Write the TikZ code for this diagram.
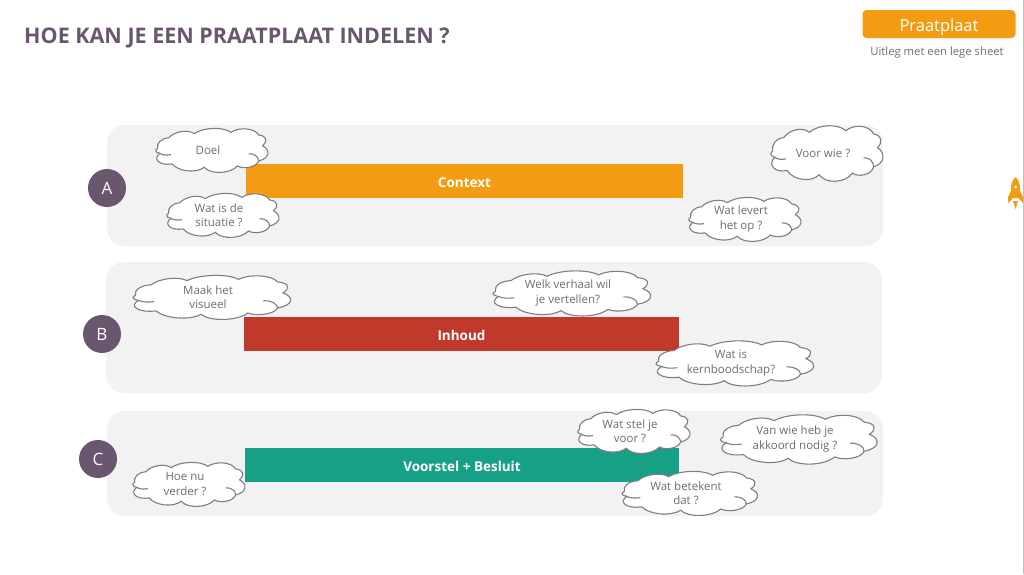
\documentclass[tikz,border=0pt]{standalone}
\usepackage{fontspec}
\setmainfont{Open Sans}
\definecolor{plum}{HTML}{6B5670}
\definecolor{panelgrey}{HTML}{F2F2F2}
\definecolor{barorange}{HTML}{F39C12}
\definecolor{barred}{HTML}{C0392B}
\definecolor{bargreen}{HTML}{16A085}
\definecolor{cloudline}{HTML}{85798A}
\definecolor{cloudtext}{HTML}{6E6E6E}
\tikzset{
  panelbox/.style={fill=panelgrey,rounded corners=18pt,inner sep=0pt},
  barbox/.style={inner sep=0pt,text=white,text height=12pt,text depth=0pt,font=\fontsize{13.5}{16}\selectfont\bfseries},
  letterdot/.style={circle,fill=plum,text=white,minimum size=38pt,inner sep=0pt,font=\fontsize{17}{20}\selectfont},
  cloudline/.style={draw=cloudline,line width=1.1pt},
  cloudtag/.style={text=cloudtext,align=center,inner sep=0pt,font=\fontsize{11.5}{14.5}\selectfont},
}
% name, centre x, centre y, width, height, text
\newcommand{\saycloud}[6]{
  \begin{scope}[shift={(#2,#3)},xscale=#4,yscale=#5]
  \filldraw[cloudline,fill=white] (-.49,-.04) .. controls (-.50,-.16) and (-.46,-.28) .. (-.39,-.29)
    .. controls (-.34,-.44) and (-.22,-.50) .. (-.16,-.39)
    .. controls (-.08,-.54) and (.10,-.56) .. (.17,-.42)
    .. controls (.23,-.54) and (.38,-.54) .. (.42,-.36)
    .. controls (.50,-.33) and (.50,-.20) .. (.455,-.10)
    .. controls (.53,.00) and (.52,.20) .. (.42,.26)
    .. controls (.40,.42) and (.28,.46) .. (.23,.38)
    .. controls (.16,.58) and (-.02,.58) .. (-.07,.41)
    .. controls (-.14,.56) and (-.30,.52) .. (-.36,.33)
    .. controls (-.47,.38) and (-.54,.22) .. (-.47,.08)
    .. controls (-.52,.05) and (-.51,-.01) .. (-.49,-.04) -- cycle;
  \draw[cloudline] (.33,.09) .. controls (.38,.08) and (.42,.16) .. (.42,.26);
  \draw[cloudline] (-.47,.08) .. controls (-.45,.12) and (-.41,.13) .. (-.37,.11);
  \end{scope}
  \node (#1) at (#2-4,#3) [cloudtag] {#6};
}
\begin{document}
\begin{tikzpicture}[x=1pt,y=-1pt]
\useasboundingbox (0,0) rectangle (1024,574);
\fill[white] (0,0) rectangle (1024,574);
\fill[black!25] (1022.5,0) rectangle (1024,574);
% header
\node (title) at (24,43) [anchor=base west,inner sep=0pt,text=plum,font=\fontsize{21.5}{24}\selectfont\bfseries] {HOE KAN JE EEN PRAATPLAAT INDELEN ?};
\node (badge) at (939,24) [fill=barorange,rounded corners=4pt,minimum width=153pt,minimum height=28pt,inner sep=0pt,text=white,text height=14pt,text depth=0pt,font=\fontsize{16.5}{18}\selectfont] {Praatplaat};
\node (subtitle) at (937,50) [text=cloudtext,inner sep=0pt,text height=11pt,text depth=0pt,font=\fontsize{11.3}{13}\selectfont] {Uitleg met een lege sheet};
% panels
\node (panelA) at (495,185.5) [panelbox,minimum width=776pt,minimum height=121pt] {};
\node (panelB) at (494,327.5) [panelbox,minimum width=776pt,minimum height=131pt] {};
\node (panelC) at (495,463.5) [panelbox,minimum width=776pt,minimum height=105pt] {};
% bars
\node (context) at (464.5,181) [barbox,fill=barorange,minimum width=437pt,minimum height=34pt] {Context};
\node (inhoud) at (461.5,334) [barbox,fill=barred,minimum width=435pt,minimum height=34pt] {Inhoud};
\node (voorstel) at (462,465) [barbox,fill=bargreen,minimum width=434pt,minimum height=34pt] {Voorstel + Besluit};
% letters
\node (letterA) at (107,188) [letterdot] {A};
\node (letterB) at (102,334) [letterdot] {B};
\node (letterC) at (98,459) [letterdot] {C};
% clouds
\saycloud{doel}{212}{150}{111}{42}{Doel}
\saycloud{situatie}{223}{215}{111}{42}{Wat is de\\situatie ?}
\saycloud{voorwie}{827}{153}{111}{53}{Voor wie ?}
\saycloud{levert}{745}{219}{111}{42}{Wat levert\\het op ?}
\saycloud{visueel}{212}{297}{156}{42}{Maak het\\visueel}
\saycloud{verhaal}{572}{293}{156}{43}{Welk verhaal wil\\je vertellen?}
\saycloud{kern}{735}{363}{156}{43}{Wat is\\kernboodschap?}
\saycloud{stel}{634}{431}{111}{42}{Wat stel je\\voor ?}
\saycloud{akkoord}{799}{439}{155}{47}{Van wie heb je\\akkoord nodig ?}
\saycloud{verder}{189}{484}{111}{42}{Hoe nu\\verder ?}
\saycloud{betekent}{690}{493}{134}{42}{Wat betekent\\dat ?}
% rocket
\fill[barorange] (1015.5,177) .. controls (1011,181) and (1010.5,186) .. (1011,198) -- (1020,198) .. controls (1020.5,186) and (1020,181) .. (1015.5,177) -- cycle;
\fill[barorange] (1011,191) -- (1008,197) -- (1008,203) -- (1012,199) -- cycle;
\fill[barorange] (1020,191) -- (1023,197) -- (1023,203) -- (1019,199) -- cycle;
\fill[barorange] (1013,201) -- (1018,201) -- (1015.5,209) -- cycle;
\fill[white] (1015.5,187) circle (1.5);
\end{tikzpicture}
\end{document}
